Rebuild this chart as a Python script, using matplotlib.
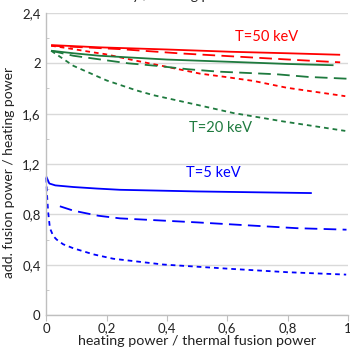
import matplotlib
matplotlib.use("Agg")
import matplotlib.pyplot as plt
from matplotlib.ticker import MultipleLocator, FuncFormatter

plt.rcParams['font.family'] = ['Lato', 'DejaVu Sans']

# ---- data ----
red_solid_x = [0.016, 0.178, 0.4, 0.61, 0.8, 0.974]
red_solid_y = [2.145, 2.127, 2.11, 2.092, 2.08, 2.068]
red_long_x = [0.016, 0.244, 0.443, 0.642, 0.841, 0.974]
red_long_y = [2.14, 2.113, 2.079, 2.052, 2.025, 2.008]
red_short_x = [0.016, 0.09, 0.156, 0.195, 0.289, 0.40, 0.51, 0.593, 0.687, 0.797, 0.991]
red_short_y = [2.14, 2.113, 2.087, 2.073, 2.025, 1.972, 1.918, 1.892, 1.86, 1.806, 1.739]

green_solid_x = [0.016, 0.09, 0.178, 0.4, 0.61, 0.8, 0.952]
green_solid_y = [2.10, 2.08, 2.06, 2.03, 2.012, 1.995, 1.985]
green_long_x = [0.016, 0.09, 0.272, 0.366, 0.47, 0.57, 0.764, 0.868, 0.995]
green_long_y = [2.10, 2.06, 2.0, 1.98, 1.953, 1.934, 1.913, 1.892, 1.878]
green_short_x = [0.016, 0.09, 0.2, 0.3, 0.355, 0.5, 0.62, 0.786, 0.991]
green_short_y = [2.10, 1.98, 1.864, 1.784, 1.747, 1.67, 1.605, 1.538, 1.463]

blue_solid_x = [0.0, 0.01, 0.03, 0.09, 0.167, 0.244, 0.5, 0.7, 0.88]
blue_solid_y = [1.10, 1.045, 1.03, 1.017, 1.005, 0.995, 0.982, 0.975, 0.969]
blue_long_x = [0.045, 0.09, 0.172, 0.244, 0.5, 0.83, 0.995]
blue_long_y = [0.864, 0.829, 0.789, 0.768, 0.736, 0.69, 0.678]
blue_short_x = [0.0, 0.002, 0.006, 0.012, 0.023, 0.034, 0.056, 0.09, 0.156, 0.222, 0.388, 0.609, 0.8, 0.994]
blue_short_y = [1.09, 0.97, 0.82, 0.69, 0.628, 0.60, 0.562, 0.53, 0.482, 0.447, 0.401, 0.367, 0.34, 0.321]

labels = ["T=50 keV", "T=20 keV", "T=5 keV"]
label_x = [0.729, 0.579, 0.555]
label_y = [2.21, 1.485, 1.132]

RED = "#FF0000"
GREEN = "#1E7A3E"
BLUE = "#0000FF"

fig = plt.figure(figsize=(3.5, 3.6), dpi=100)
ax = fig.add_axes([46.3/350, 1 - 315/360, (348 - 46.3)/350, (315 - 13)/360])

lw = 1.3
long_dash = (0, (7, 3.5))
short_dash = (0, (2.6, 2.2))

series = [
    (red_solid_x, red_solid_y, RED, '-'),
    (red_long_x, red_long_y, RED, long_dash),
    (red_short_x, red_short_y, RED, short_dash),
    (green_solid_x, green_solid_y, GREEN, '-'),
    (green_long_x, green_long_y, GREEN, long_dash),
    (green_short_x, green_short_y, GREEN, short_dash),
    (blue_solid_x, blue_solid_y, BLUE, '-'),
    (blue_long_x, blue_long_y, BLUE, long_dash),
    (blue_short_x, blue_short_y, BLUE, short_dash),
]
for xs, ys, c, ls in series:
    ax.plot(xs, ys, color=c, linestyle=ls, linewidth=lw, solid_capstyle='butt',
            dash_capstyle='butt', clip_on=False)

for t, x, y, c in zip(labels, label_x, label_y, [RED, GREEN, BLUE]):
    ax.text(x, y, t, color=c, fontsize=10.5, ha='center', va='center')

ax.set_xlim(0, 1)
ax.set_ylim(0, 2.4)
ax.xaxis.set_major_locator(MultipleLocator(0.2))
ax.yaxis.set_major_locator(MultipleLocator(0.4))
ax.yaxis.set_minor_locator(MultipleLocator(0.2))

def fmt(v, pos):
    s = ("%.1f" % v).rstrip('0').rstrip('.')
    return s.replace('.', ',')

ax.xaxis.set_major_formatter(FuncFormatter(fmt))
ax.yaxis.set_major_formatter(FuncFormatter(fmt))

ax.grid(axis='y', which='major', color='#D9D9D9', linewidth=1.0)
ax.set_axisbelow(True)
for s in ['top', 'right']:
    ax.spines[s].set_visible(False)
for s in ['left', 'bottom']:
    ax.spines[s].set_color('#BFBFBF')
    ax.spines[s].set_linewidth(1.0)

ax.tick_params(axis='x', which='major', direction='out', length=4, color='#BFBFBF',
               labelsize=9.5, pad=1.5, labelcolor='#222222')
ax.tick_params(axis='y', which='major', length=0, labelsize=9.5, pad=4, labelcolor='#222222')
ax.tick_params(axis='y', which='minor', direction='in', length=2, color='#BFBFBF')

ax.set_xlabel("heating power / thermal fusion power", fontsize=10.3, color='#222222', labelpad=0.5)
ax.set_ylabel("add. fusion power / heating power", fontsize=10, color='#222222')
ax.yaxis.set_label_coords(-0.105, 0.473)

fig.text(36/350, 1 + 0.5/360, "Fusion efficiency / heating power", fontsize=10,
         ha='left', va='baseline', color='#222222')

fig.savefig("out.png", dpi=100)
